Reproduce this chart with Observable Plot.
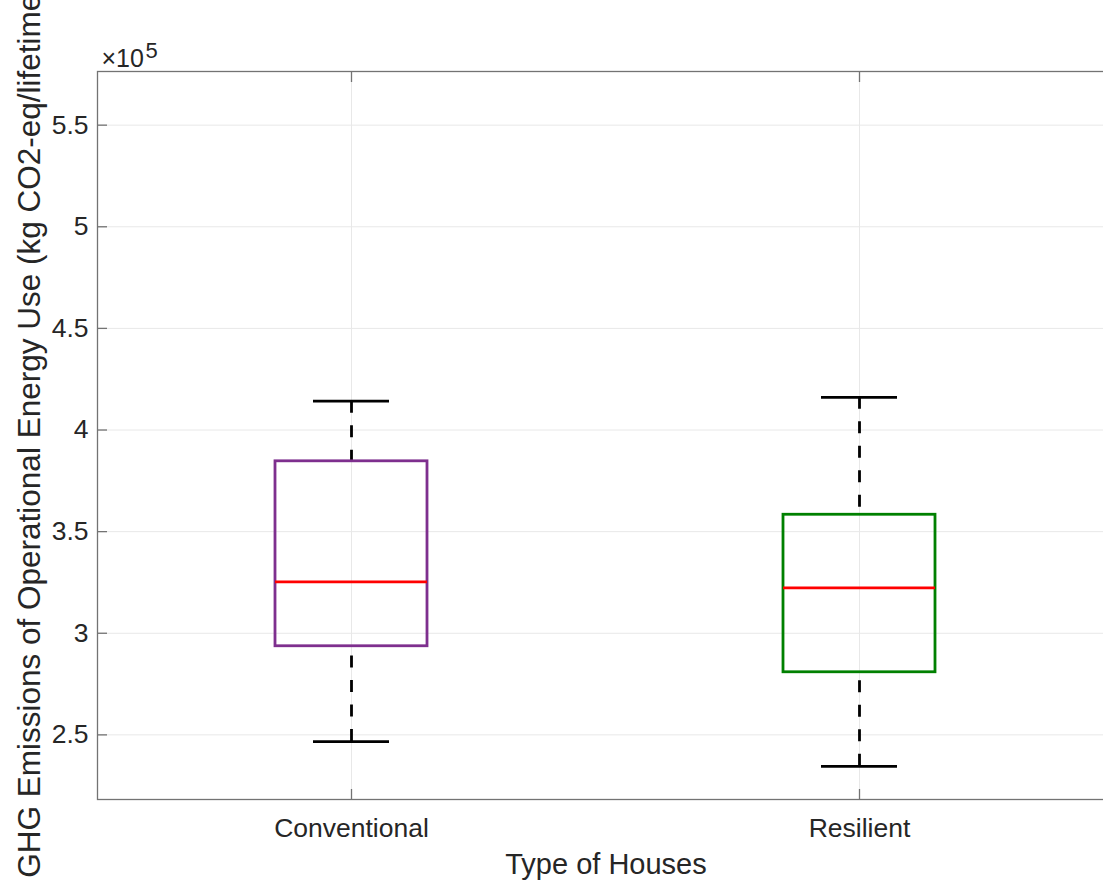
<!DOCTYPE html>
<html>
<head>
<meta charset="utf-8">
<script src="https://cdn.jsdelivr.net/npm/d3@7"></script>
<script src="https://cdn.jsdelivr.net/npm/@observablehq/plot@0.6"></script>
<style>
  html, body { margin: 0; padding: 0; background: #fff; overflow: hidden; }
  svg { overflow: hidden; }
</style>
</head>
<body>
<div id="chart"></div>
<script>
const categories = ["Conventional", "Resilient"];
const upperWhisker = [414200, 416100];
const q3 = [384600, 358300];
const medians = [325300, 322300];
const q1 = [293600, 280800];
const lowerWhisker = [246700, 234500];
const yTicks = [250000, 300000, 350000, 400000, 450000, 500000, 550000];
const yLabel = "GHG Emissions of Operational Energy Use (kg CO2-eq/lifetime)";
const xLabel = "Type of Houses";

const data = categories.map((c, i) => ({
  category: c,
  upper: upperWhisker[i],
  q3: q3[i],
  median: medians[i],
  q1: q1[i],
  lower: lowerWhisker[i]
}));

const font = "'Liberation Sans', Arial, Helvetica, sans-serif";
const textColor = "#262626";
const axisColor = "#737373";
const gridColor = "#e8e8e8";

const chart = Plot.plot({
  width: 1103,
  height: 880,
  marginLeft: 97,
  marginRight: -11,
  marginTop: 71,
  marginBottom: 81,
  style: {fontFamily: font, color: textColor, background: "#fff", overflow: "hidden"},
  x: {type: "band", domain: categories, paddingInner: 0.7, paddingOuter: 0.35, label: null},
  y: {domain: [218200, 576400], label: null},
  color: {domain: categories, range: ["#7E2F8E", "#008000"]},
  marks: [
    Plot.gridY({ticks: yTicks, stroke: gridColor, strokeOpacity: 1, strokeWidth: 1}),
    Plot.gridX({stroke: gridColor, strokeOpacity: 1, strokeWidth: 1}),
    Plot.frame({stroke: axisColor, strokeWidth: 1.3}),
    // inward tick marks
    Plot.axisY({ticks: yTicks, tickSize: -10, tickFormat: () => "", stroke: axisColor, strokeWidth: 1.3, label: null}),
    Plot.axisX({tickSize: -10, tickFormat: () => "", stroke: axisColor, strokeWidth: 1.3, label: null}),
    Plot.axisX({anchor: "top", tickSize: -10, tickFormat: () => "", stroke: axisColor, strokeWidth: 1.3, label: null}),
    // tick labels
    Plot.axisY({ticks: yTicks, tickSize: 0, tickPadding: 9, fontSize: 26.5, fill: textColor,
      tickFormat: d => String(d / 1e5), label: null}),
    Plot.axisX({tickSize: 0, tickPadding: 19, fontSize: 26.5, fill: textColor, label: null}),
    // whiskers (dashed, drawn from cap toward box)
    Plot.ruleX(data, {x: "category", y1: "upper", y2: "q3", stroke: "black", strokeWidth: 2.8, strokeDasharray: "12,12.5"}),
    Plot.ruleX(data, {x: "category", y1: "lower", y2: "q1", stroke: "black", strokeWidth: 2.8, strokeDasharray: "12,12.5"}),
    // boxes
    Plot.barY(data, {x: "category", y1: "q1", y2: "q3", fill: "none", stroke: "category", strokeWidth: 2.8}),
    // medians
    Plot.tickY(data, {x: "category", y: "median", stroke: "#ff0000", strokeWidth: 2.8}),
    // caps
    Plot.tickY(data, {x: "category", y: "upper", insetLeft: 38, insetRight: 38, stroke: "black", strokeWidth: 2.8}),
    Plot.tickY(data, {x: "category", y: "lower", insetLeft: 38, insetRight: 38, stroke: "black", strokeWidth: 2.8}),
    // axis labels
    Plot.text([yLabel], {frameAnchor: "left", rotate: -90, dx: -58, dy: -5, textAnchor: "middle", lineAnchor: "bottom",
      fontSize: 31.5, fill: textColor}),
    Plot.text([xLabel], {frameAnchor: "bottom", dy: 74, textAnchor: "middle", lineAnchor: "bottom",
      fontSize: 29, fill: textColor}),
    // exponent
    Plot.text(["×10"], {frameAnchor: "top-left", dx: 4, dy: -5, textAnchor: "start", lineAnchor: "bottom",
      fontSize: 25, fill: textColor}),
    Plot.text(["5"], {frameAnchor: "top-left", dx: 48, dy: -14, textAnchor: "start", lineAnchor: "bottom",
      fontSize: 22, fill: textColor})
  ]
});
document.getElementById("chart").appendChild(chart);
</script>
</body>
</html>
